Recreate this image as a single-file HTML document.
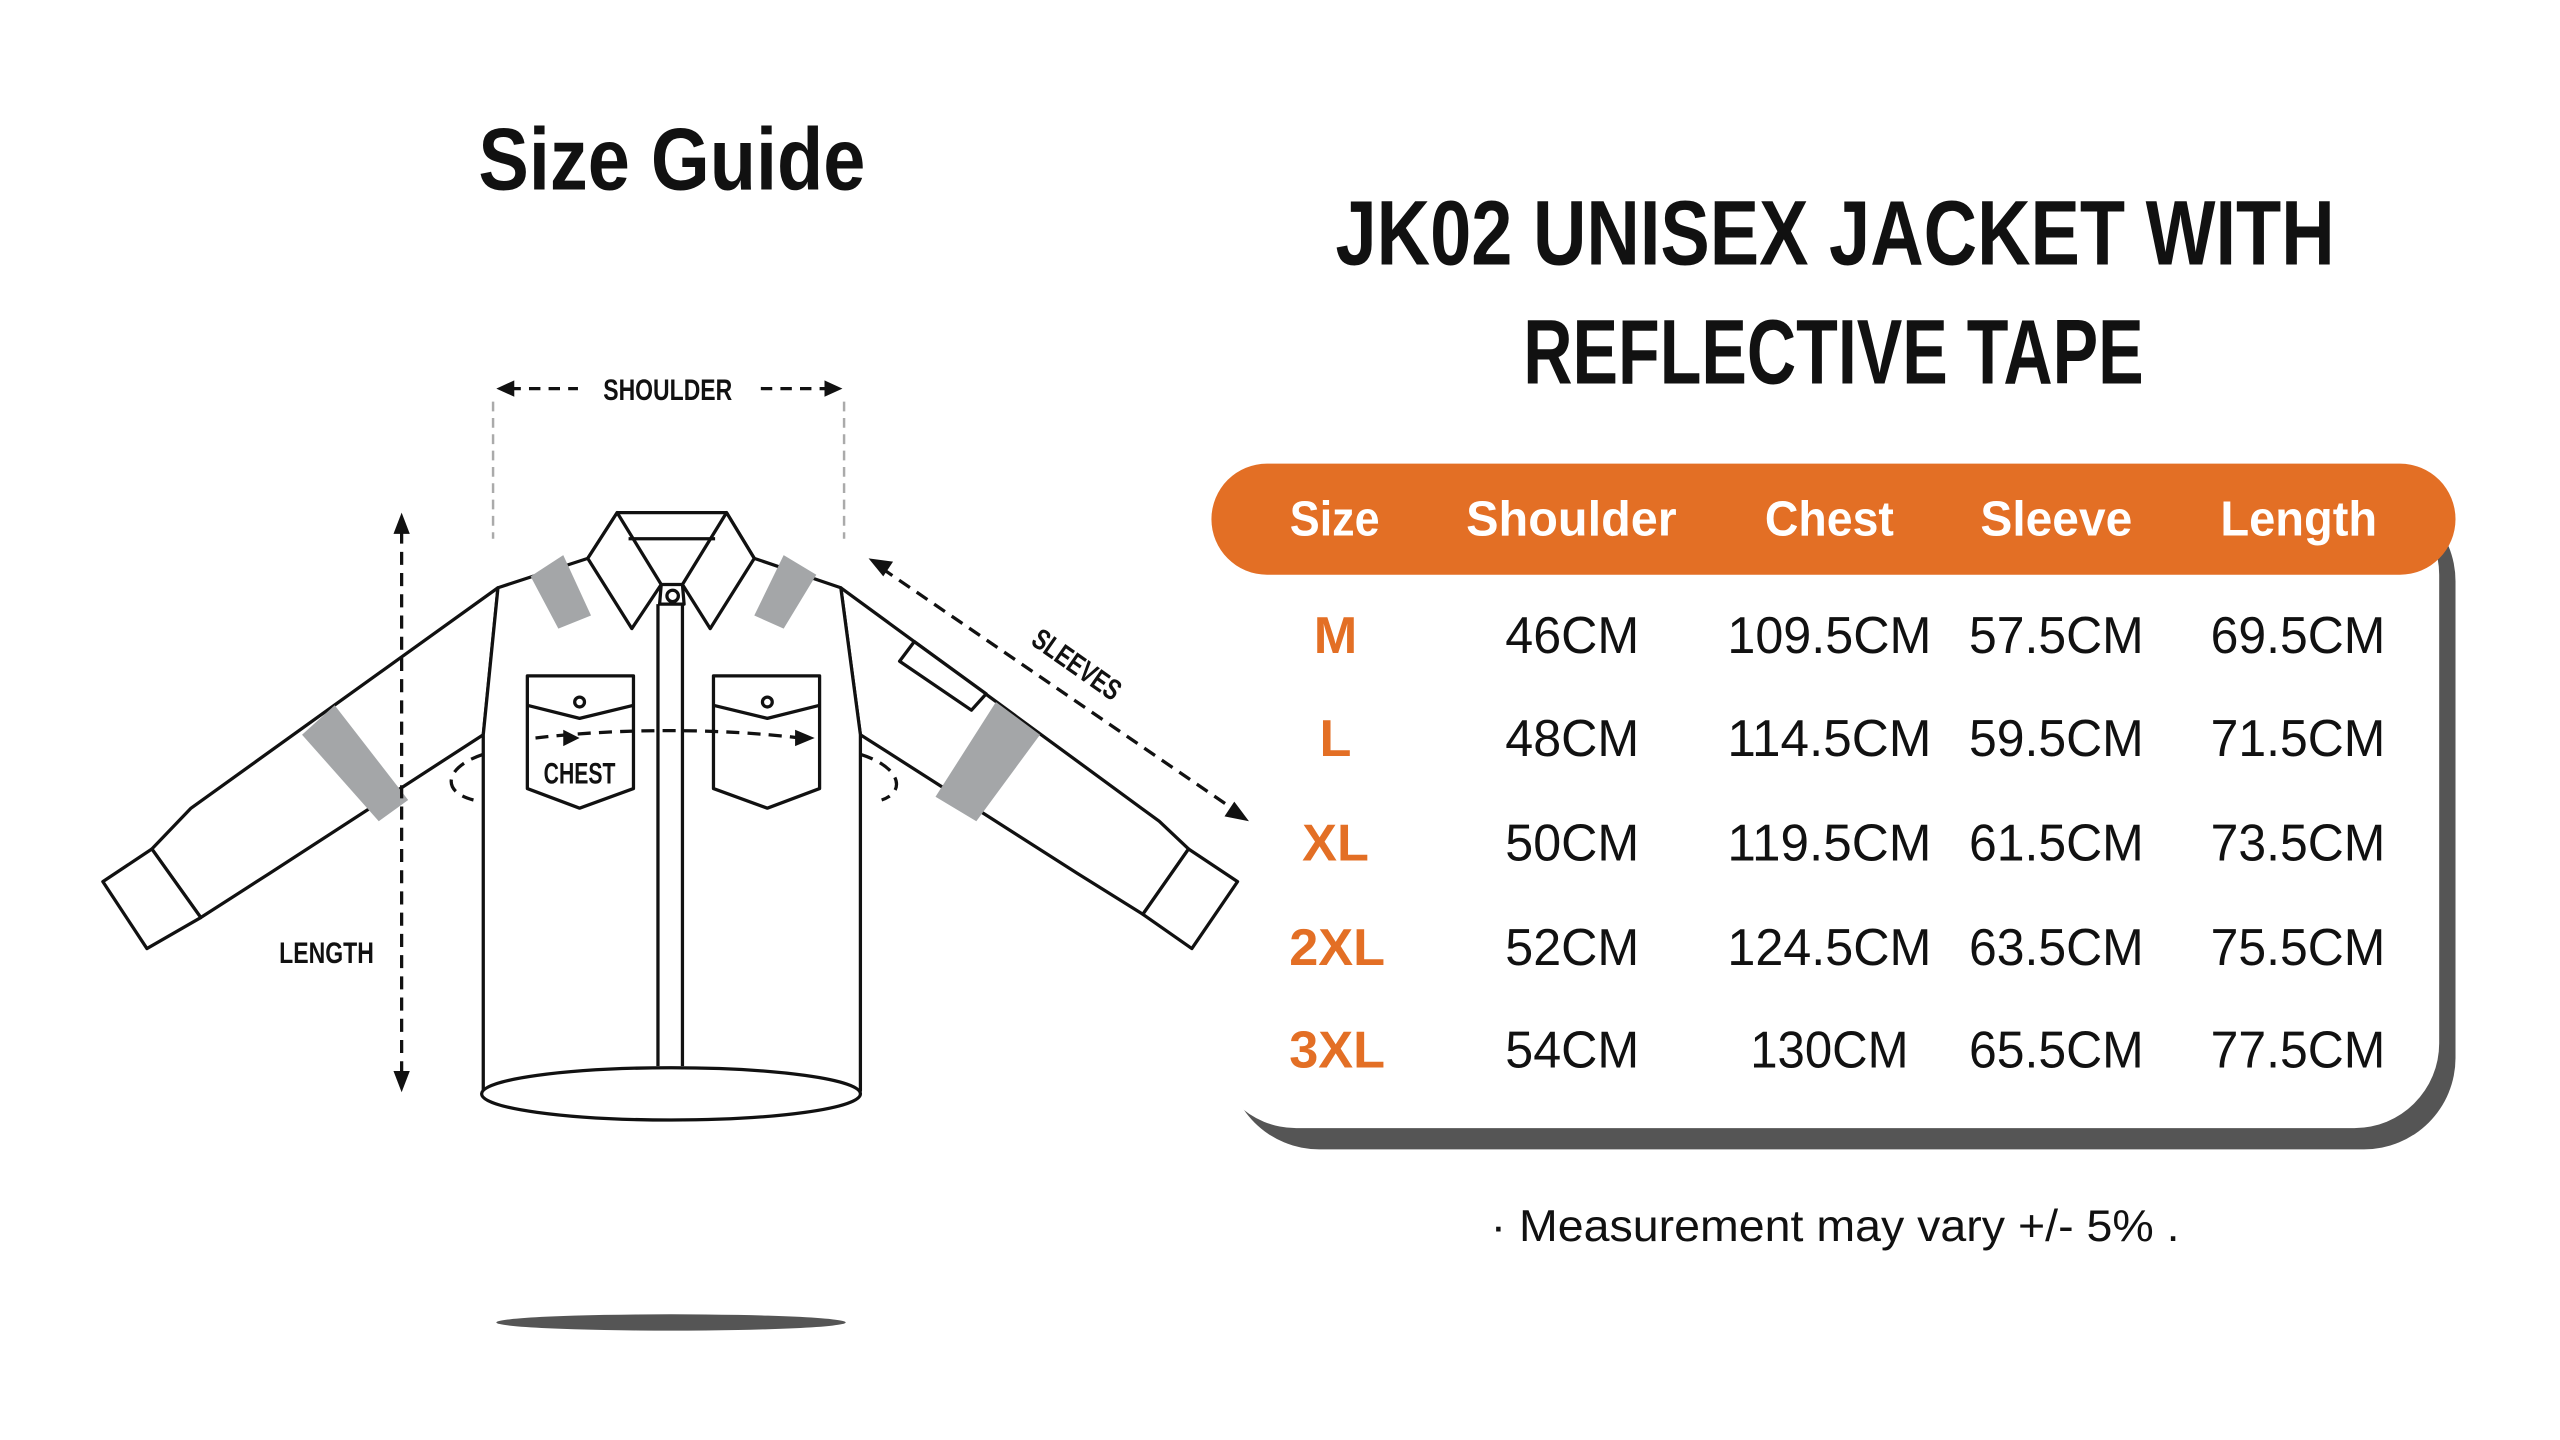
<!DOCTYPE html>
<html><head><meta charset="utf-8"><style>html,body{margin:0;padding:0;background:#fff;width:2560px;height:1440px;overflow:hidden}svg{display:block}</style></head>
<body>
<svg width="2560" height="1440" viewBox="0 0 1568 882" xmlns="http://www.w3.org/2000/svg" font-family="Liberation Sans, sans-serif">
<rect width="1568" height="882" fill="#fff"/>
<!-- Titles -->
<text x="293" y="116" font-size="54" font-weight="bold" textLength="237" lengthAdjust="spacingAndGlyphs" fill="#111">Size Guide</text>
<text x="818" y="162" font-size="56" font-weight="bold" textLength="612" lengthAdjust="spacingAndGlyphs" fill="#111">JK02 UNISEX JACKET WITH</text>
<text x="933" y="235" font-size="56" font-weight="bold" textLength="380" lengthAdjust="spacingAndGlyphs" fill="#111">REFLECTIVE TAPE</text>

<!-- Table -->
<rect x="752" y="300" width="752" height="404" rx="56" fill="#555"/>
<rect x="742" y="300" width="752" height="391" rx="52" fill="#fff"/>
<rect x="742" y="284" width="762" height="68" rx="34" fill="#E36F25"/>
<g fill="#fff" font-weight="bold" font-size="30">
<text x="790" y="328" textLength="55" lengthAdjust="spacingAndGlyphs">Size</text>
<text x="898" y="328" textLength="129" lengthAdjust="spacingAndGlyphs">Shoulder</text>
<text x="1081" y="328" textLength="79" lengthAdjust="spacingAndGlyphs">Chest</text>
<text x="1213" y="328" textLength="93" lengthAdjust="spacingAndGlyphs">Sleeve</text>
<text x="1360" y="328" textLength="96" lengthAdjust="spacingAndGlyphs">Length</text>
</g>
<g font-size="32" fill="#E36F25" font-weight="bold" text-anchor="middle">
<text x="818" y="400">M</text>
<text x="818" y="463">L</text>
<text x="818" y="527">XL</text>
<text x="819" y="591">2XL</text>
<text x="819" y="654">3XL</text>
</g>
<g font-size="32" fill="#111">
<text x="922" y="400" textLength="82" lengthAdjust="spacingAndGlyphs">46CM</text>
<text x="1058" y="400" textLength="125" lengthAdjust="spacingAndGlyphs">109.5CM</text>
<text x="1206" y="400" textLength="107" lengthAdjust="spacingAndGlyphs">57.5CM</text>
<text x="1354" y="400" textLength="107" lengthAdjust="spacingAndGlyphs">69.5CM</text>
<text x="922" y="463" textLength="82" lengthAdjust="spacingAndGlyphs">48CM</text>
<text x="1058" y="463" textLength="125" lengthAdjust="spacingAndGlyphs">114.5CM</text>
<text x="1206" y="463" textLength="107" lengthAdjust="spacingAndGlyphs">59.5CM</text>
<text x="1354" y="463" textLength="107" lengthAdjust="spacingAndGlyphs">71.5CM</text>
<text x="922" y="527" textLength="82" lengthAdjust="spacingAndGlyphs">50CM</text>
<text x="1058" y="527" textLength="125" lengthAdjust="spacingAndGlyphs">119.5CM</text>
<text x="1206" y="527" textLength="107" lengthAdjust="spacingAndGlyphs">61.5CM</text>
<text x="1354" y="527" textLength="107" lengthAdjust="spacingAndGlyphs">73.5CM</text>
<text x="922" y="591" textLength="82" lengthAdjust="spacingAndGlyphs">52CM</text>
<text x="1058" y="591" textLength="125" lengthAdjust="spacingAndGlyphs">124.5CM</text>
<text x="1206" y="591" textLength="107" lengthAdjust="spacingAndGlyphs">63.5CM</text>
<text x="1354" y="591" textLength="107" lengthAdjust="spacingAndGlyphs">75.5CM</text>
<text x="922" y="654" textLength="82" lengthAdjust="spacingAndGlyphs">54CM</text>
<text x="1072" y="654" textLength="97" lengthAdjust="spacingAndGlyphs">130CM</text>
<text x="1206" y="654" textLength="107" lengthAdjust="spacingAndGlyphs">65.5CM</text>
<text x="1354" y="654" textLength="107" lengthAdjust="spacingAndGlyphs">77.5CM</text>
</g>
<text x="913" y="760" font-size="27" fill="#111" textLength="422" lengthAdjust="spacingAndGlyphs">· Measurement may vary +/- 5% .</text>

<!-- Jacket -->
<ellipse cx="411" cy="810" rx="107" ry="5" fill="#555"/>
<g fill="#fff" stroke="#111" stroke-width="2" stroke-linejoin="round">
<polygon points="305,360 117,495 93,520 123,562 165,535 296,450"/>
<polygon points="515,360 710,503 728,520 700,560 660,535 527,450"/>
<polygon points="63,540 93,520 123,562 90,581"/>
<polygon points="700,560 728,520 758,540 730,581"/>
<path d="M305,360 L296,450 L296,668 L527,668 L527,450 L515,360 L462,342 L445,314 L378,314 L360,342 Z"/>
<ellipse cx="411" cy="670" rx="116" ry="16"/>
</g>
<g fill="#a4a6a8">
<polygon points="185,450 205,432 250,490 232,503"/>
<polygon points="573,488 610,430 637,450 598,503"/>
<polygon points="325,353 345,340 362,377 342,385"/>
<polygon points="462,377 480,340 500,352 480,385"/>
</g>
<g fill="none" stroke="#111" stroke-width="2" stroke-linejoin="round">
<polygon points="360,342 378,314 405,358 387,385" fill="#fff"/>
<polygon points="462,342 445,314 418,358 435,385" fill="#fff"/>
<line x1="385" y1="330" x2="438" y2="330"/>
<polygon points="405,358 418,358 419,370 404,370" fill="#fff"/>
<circle cx="412" cy="365" r="3.5"/>
<line x1="403" y1="370" x2="403" y2="653"/>
<line x1="418" y1="370" x2="418" y2="653"/>
<polygon points="323,414 388,414 388,483 355,495 323,483" fill="#fff"/>
<polyline points="323,432 355,440 388,432"/>
<circle cx="355" cy="430" r="3"/>
<polygon points="437,414 502,414 502,483 470,495 437,483" fill="#fff"/>
<polyline points="437,432 470,440 502,432"/>
<circle cx="470" cy="430" r="3"/>
<polygon points="551,405 560,393 604,425 595,435" fill="#fff"/>
</g>
<text x="355" y="480" font-size="18" text-anchor="middle" fill="#111" font-weight="bold" textLength="44" lengthAdjust="spacingAndGlyphs">CHEST</text>
<g fill="none" stroke="#111" stroke-width="2" stroke-dasharray="8,5">
<path d="M296,462 C272,470 270,485 290,490"/>
<path d="M328,452 C380,446 440,446 490,452"/>
<path d="M527,462 C552,470 555,485 540,490"/>
</g>
<polygon points="345,447 355,452 345,457" fill="#111"/>
<polygon points="487,447 499,452 487,457" fill="#111"/>
<g stroke="#aaa" stroke-width="1.5" stroke-dasharray="6,4">
<line x1="302" y1="246" x2="302" y2="330"/>
<line x1="517" y1="246" x2="517" y2="330"/>
</g>
<g stroke="#111" stroke-width="2" stroke-dasharray="7,5">
<line x1="312" y1="238" x2="354" y2="238"/>
<line x1="466" y1="238" x2="508" y2="238"/>
</g>
<polygon points="304,238 315,233 315,243" fill="#111"/>
<polygon points="516,238 505,233 505,243" fill="#111"/>
<text x="409" y="245" font-size="18" text-anchor="middle" fill="#111" font-weight="bold" textLength="79" lengthAdjust="spacingAndGlyphs">SHOULDER</text>
<line x1="246" y1="325" x2="246" y2="660" stroke="#111" stroke-width="2" stroke-dasharray="8,5"/>
<polygon points="246,314 241,327 251,327" fill="#111"/>
<polygon points="246,669 241,656 251,656" fill="#111"/>
<text x="200" y="590" font-size="18" text-anchor="middle" fill="#111" font-weight="bold" textLength="58" lengthAdjust="spacingAndGlyphs">LENGTH</text>
<line x1="540" y1="348" x2="756" y2="496" stroke="#111" stroke-width="2" stroke-dasharray="8,5"/>
<polygon points="532,342 547,344 541,353" fill="#111"/>
<polygon points="765,503 750,500 756,491" fill="#111"/>
<text x="0" y="0" font-size="18" fill="#111" font-weight="bold" text-anchor="middle" transform="translate(656,412) rotate(35)" textLength="62" lengthAdjust="spacingAndGlyphs">SLEEVES</text>
</svg>
</body></html>
